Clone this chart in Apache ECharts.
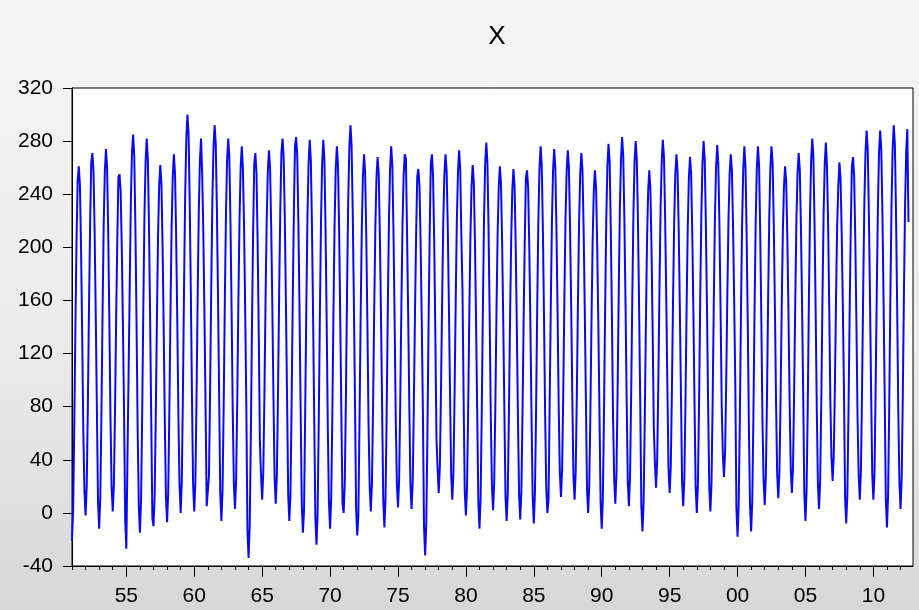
<!DOCTYPE html>
<html>
<head>
<meta charset="utf-8">
<script src="https://cdn.jsdelivr.net/npm/echarts@6/dist/echarts.min.js"></script>
<style>
  html, body { margin: 0; padding: 0; }
  #chart { width: 919px; height: 610px; }
</style>
</head>
<body>
<div id="chart"></div>
<script>
// Monthly series X, January 1951 onwards, one decade per array (12 values per year).
const x1951_1960 = [
  -21, 2, 64, 140, 205, 250, 261, 247, 199, 134, 61, 16,
  -2, 20, 80, 154, 216, 264, 271, 257, 211, 148, 77, 8,
  -12, 11, 74, 151, 217, 257, 274, 260, 211, 145, 71, 19,
  1, 21, 77, 146, 204, 253, 255, 242, 199, 141, 75, -5,
  -27, 42, 105, 170, 235, 272, 285, 269, 216, 145, 63, 6,
  -15, 9, 74, 154, 223, 264, 282, 267, 217, 148, 71, -4,
  -10, 12, 72, 145, 208, 246, 262, 248, 202, 140, 69, 12,
  -7, 15, 76, 151, 215, 253, 270, 256, 209, 145, 73, 21,
  0, 24, 90, 171, 240, 282, 300, 285, 234, 165, 87, 21,
  1, 23, 85, 161, 226, 265, 282, 256, 212, 150, 80, 5
];
const x1961_1970 = [
  5, 28, 91, 169, 235, 275, 292, 278, 229, 163, 88, 14,
  -6, 17, 80, 158, 224, 265, 282, 268, 219, 152, 78, 22,
  3, 25, 85, 159, 221, 260, 276, 259, 216, 153, 82, -13,
  -34, -10, 58, 140, 210, 263, 271, 256, 204, 134, 54, 28,
  10, 31, 89, 160, 220, 257, 273, 260, 215, 155, 86, 26,
  7, 29, 90, 164, 227, 271, 282, 268, 222, 158, 87, 14,
  -6, 14, 81, 159, 225, 276, 283, 269, 219, 153, 78, 6,
  -15, 2, 74, 154, 222, 263, 281, 266, 216, 148, 71, -3,
  -24, 0, 68, 150, 220, 263, 281, 266, 214, 144, 64, 8,
  -12, 11, 74, 152, 218, 259, 276, 262, 213, 146, 72, 7
];
const x1971_1980 = [
  0, 23, 88, 166, 234, 274, 292, 277, 228, 161, 85, 3,
  -17, -2, 69, 147, 213, 253, 270, 256, 207, 141, 66, 20,
  1, 22, 81, 153, 215, 253, 268, 255, 209, 148, 78, 9,
  -11, 12, 75, 153, 219, 259, 276, 262, 213, 147, 72, 23,
  4, 25, 84, 156, 217, 254, 270, 267, 211, 150, 81, 21,
  3, 23, 80, 149, 208, 253, 259, 246, 203, 144, 77, -11,
  -32, -8, 59, 140, 210, 263, 270, 253, 204, 134, 56, 33,
  15, 35, 92, 160, 219, 255, 270, 257, 214, 155, 89, 28,
  10, 31, 89, 160, 220, 257, 273, 259, 208, 167, 85, 16,
  -2, 19, 77, 148, 209, 246, 262, 249, 204, 143, 75, 8
];
const x1981_1990 = [
  -12, 11, 75, 154, 221, 262, 279, 264, 215, 148, 72, 20,
  2, 23, 80, 150, 209, 245, 261, 248, 204, 144, 77, 12,
  -6, 15, 74, 145, 206, 243, 259, 246, 201, 140, 71, 13,
  -5, 16, 74, 145, 205, 252, 258, 245, 200, 140, 71, 12,
  -8, 15, 77, 154, 219, 259, 276, 262, 214, 148, 74, 19,
  0, 10, 82, 156, 219, 258, 274, 260, 214, 151, 79, 30,
  12, 33, 90, 161, 221, 257, 273, 260, 216, 156, 88, 28,
  10, 31, 88, 159, 219, 255, 271, 258, 214, 154, 86, 18,
  0, 21, 77, 147, 206, 243, 258, 245, 201, 142, 75, 8,
  -12, 11, 75, 153, 220, 261, 278, 264, 214, 148, 72, 26
];
const x1991_2000 = [
  7, 29, 90, 164, 228, 266, 283, 269, 222, 159, 87, 24,
  5, 27, 88, 162, 225, 264, 280, 266, 220, 156, 85, 5,
  -14, 8, 68, 141, 204, 242, 258, 244, 198, 136, 65, 37,
  19, 40, 98, 168, 229, 265, 281, 268, 223, 163, 95, 33,
  15, 35, 92, 160, 219, 255, 270, 257, 214, 155, 89, 23,
  5, 26, 84, 155, 215, 252, 268, 255, 210, 150, 81, 19,
  0, 22, 84, 160, 224, 263, 280, 266, 218, 154, 81, 20,
  1, 23, 84, 158, 222, 260, 277, 263, 216, 153, 81, 44,
  27, 46, 100, 166, 221, 255, 270, 258, 217, 161, 97, 3,
  -18, 6, 70, 150, 217, 258, 276, 261, 211, 144, 67, 6
];
const x2001_2012 = [
  -14, 9, 73, 151, 218, 259, 276, 262, 212, 146, 70, 25,
  6, 28, 87, 160, 222, 260, 276, 263, 217, 155, 84, 29,
  11, 31, 86, 154, 211, 246, 261, 249, 206, 149, 84, 33,
  15, 35, 92, 161, 220, 256, 271, 258, 215, 156, 89, 14,
  -6, 17, 80, 158, 224, 265, 282, 268, 219, 152, 78, 22,
  3, 25, 86, 160, 224, 262, 279, 261, 218, 155, 83, 41,
  24, 43, 96, 161, 216, 246, 264, 252, 211, 156, 94, 11,
  -8, 14, 75, 149, 213, 261, 268, 254, 207, 144, 72, 29,
  10, 32, 93, 168, 232, 271, 288, 274, 227, 163, 91, 29,
  10, 30, 95, 166, 230, 272, 288, 273, 225, 160, 88, 10,
  -11, 13, 80, 162, 231, 274, 292, 277, 225, 156, 77, 23,
  3, 26, 89, 166, 232, 272, 289, 219
];

// Sample range of the workfile and the years that carry a label.
const firstYear = 1951;
const lastYear = 2012;
const labelYears = [1955, 1960, 1965, 1970, 1975, 1980, 1985, 1990, 1995, 2000, 2005, 2010];
const yTickValues = [-40, 0, 40, 80, 120, 160, 200, 240, 280, 320];

const seriesX = [].concat(x1951_1960, x1961_1970, x1971_1980, x1981_1990, x1991_2000, x2001_2012);

const months = [];
for (let y = firstYear; y <= lastYear; y++) {
  for (let m = 1; m <= 12; m++) {
    months.push(y + 'M' + (m < 10 ? '0' + m : m));
  }
}
const labelSet = new Set(labelYears.map(y => y + 'M01'));
const isJanuary = (i, v) => v.endsWith('M01');
const isLabelled = (i, v) => labelSet.has(v);

const font = '"Liberation Sans", Arial, sans-serif';
const chart = echarts.init(document.getElementById('chart'), null, { renderer: 'canvas' });

chart.setOption({
  animation: false,
  backgroundColor: {
    type: 'linear', x: 0, y: 0, x2: 0, y2: 1,
    colorStops: [
      { offset: 0, color: '#f5f5f5' },
      { offset: 0.55, color: '#ececec' },
      { offset: 1, color: '#d7d7d7' }
    ]
  },
  title: {
    text: 'X',
    left: 492,
    top: 19,
    textAlign: 'center',
    textStyle: { fontFamily: font, fontSize: 26, fontWeight: 'normal', color: '#000' }
  },
  grid: {
    left: 72, right: 6, top: 88, bottom: 44,
    show: true, backgroundColor: '#ffffff', borderColor: '#000', borderWidth: 1
  },
  xAxis: [
    {
      type: 'category',
      data: months,
      boundaryGap: false,
      axisLine: { show: true, onZero: false, lineStyle: { color: '#000', width: 1 } },
      axisTick: { show: true, interval: isJanuary, length: 4, lineStyle: { color: '#000' } },
      axisLabel: { show: false },
      splitLine: { show: false }
    },
    {
      type: 'category',
      data: months,
      boundaryGap: false,
      position: 'bottom',
      axisLine: { show: false, onZero: false },
      axisTick: { show: true, interval: isLabelled, length: 11, lineStyle: { color: '#000' } },
      axisLabel: {
        interval: isLabelled,
        formatter: v => v.slice(2, 4),
        fontFamily: font, fontSize: 21, color: '#000', margin: 20
      },
      splitLine: { show: false }
    }
  ],
  yAxis: {
    type: 'value',
    min: yTickValues[0],
    max: yTickValues[yTickValues.length - 1],
    interval: 40,
    axisLine: { show: true, lineStyle: { color: '#000', width: 1 } },
    axisTick: { show: true, length: 9, lineStyle: { color: '#000' } },
    axisLabel: { fontFamily: font, fontSize: 21, color: '#000', margin: 19 },
    splitLine: { show: false }
  },
  series: [{
    name: 'X',
    type: 'line',
    xAxisIndex: 0,
    data: seriesX,
    showSymbol: false,
    symbol: 'none',
    lineStyle: { color: '#0a0af0', width: 2 },
    emphasis: { disabled: true }
  }]
});
</script>
</body>
</html>
